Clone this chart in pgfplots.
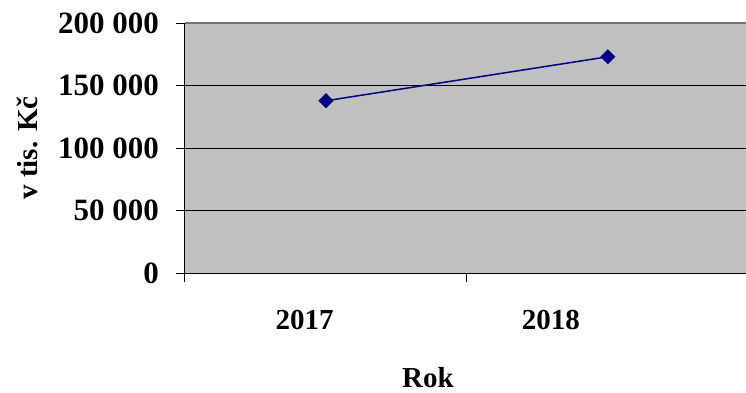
\documentclass[border=0pt]{standalone}
\usepackage{fontspec}
\setmainfont{Liberation Serif}
\usepackage{pgfplots}
\pgfplotsset{compat=1.18}
\definecolor{bg}{HTML}{C0C0C0}
\definecolor{navyline}{HTML}{000080}
\begin{document}
\begin{tikzpicture}
\begin{axis}[
  scale only axis,
  width=561pt, height=250pt,
  xmin=-0.5, xmax=1.49,
  ymin=0, ymax=200000,
  scaled ticks=false,
  axis background/.style={fill=bg},
  axis x line*=bottom, axis y line*=left,
  axis line style={black, line width=1pt},
  ytick={0,50000,100000,150000},
  yticklabels={0,{50 000},{100 000},{150 000}},
  extra y ticks={200000},
  extra y tick labels={{200 000}},
  extra y tick style={grid style={color=black!55, line width=1.2pt}},
  ymajorgrids,
  grid style={black, line width=1pt},
  xtick={-0.5,0.5},
  xticklabels={},
  extra x ticks={-0.076,0.798},
  extra x tick labels={2017,2018},
  extra x tick style={major tick length=0pt, grid=none, xticklabel style={yshift=-37pt}},
  tick align=outside,
  major tick length=9pt,
  tick style={black, line width=1pt},
  tick label style={font=\fontsize{29}{34}\selectfont\bfseries, inner sep=0pt},
  xticklabel style={anchor=north},
  yticklabel style={anchor=east, xshift=-17pt, font=\fontsize{31}{34}\selectfont\bfseries},
  /pgf/number format/assume math mode=true,
  clip=false,
]
\addplot[navyline, line width=1.5pt, mark=square*, mark size=4.6pt, mark options={rotate=45, solid, fill=navyline}]
  coordinates {(0,137800) (1,173000)};
\coordinate (pa) at (rel axis cs:0,0);
\coordinate (pb) at (rel axis cs:1,1);
\node[rotate=90, anchor=center, font=\fontsize{29}{34}\selectfont\bfseries] at ([xshift=-158pt]rel axis cs:0,0.5) {v tis. Kč};
\node[anchor=base, font=\fontsize{29}{34}\selectfont\bfseries] at ([xshift=243pt,yshift=-114pt]rel axis cs:0,0) {Rok};
\end{axis}
\pgfresetboundingbox
\path[use as bounding box] ([shift={(-185pt,-119pt)}]pa) rectangle ([shift={(0pt,23pt)}]pb);
\end{tikzpicture}
\end{document}
